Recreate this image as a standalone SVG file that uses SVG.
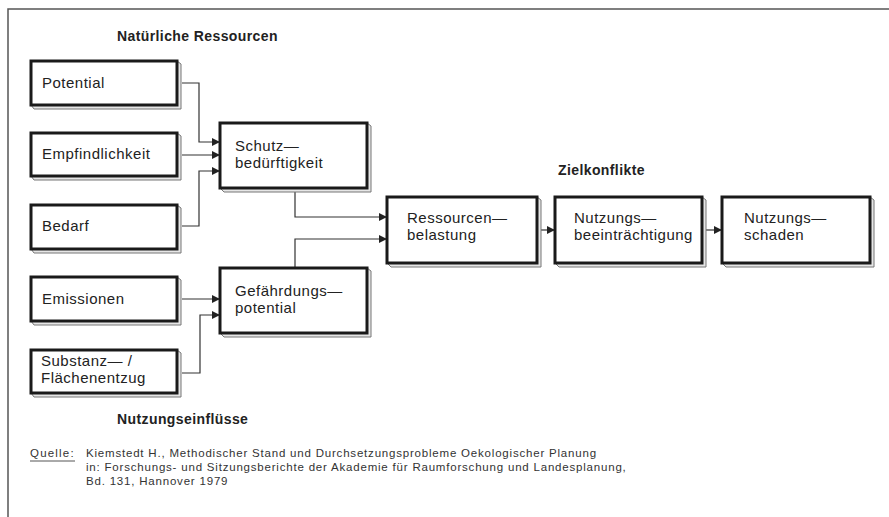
<svg xmlns="http://www.w3.org/2000/svg" width="889" height="517" viewBox="0 0 889 517">
<defs>
<style>
.box{fill:#fff;stroke:#1a1a1a;stroke-width:3}
.sh{fill:#e6e6e6;stroke:#777;stroke-width:1}
.t{font-family:"Liberation Sans",Arial,sans-serif;font-size:15px;letter-spacing:0.5px;fill:#222}
.h{font-family:"Liberation Sans",Arial,sans-serif;font-size:14px;letter-spacing:0.4px;font-weight:bold;fill:#222}
.q{font-family:"Liberation Sans",Arial,sans-serif;font-size:11.5px;letter-spacing:0.8px;fill:#333}
.c{fill:none;stroke:#333;stroke-width:1.2}
</style>
<marker id="a" markerWidth="8" markerHeight="8" refX="7" refY="4" orient="auto" markerUnits="userSpaceOnUse">
<path d="M0,0 L8,4 L0,8 Z" fill="#222"/>
</marker>
</defs>
<rect width="889" height="517" fill="#fff"/>
<path d="M889,9 L8,9 L8,517" fill="none" stroke="#555" stroke-width="1.5"/>

<text class="h" x="117" y="41">Natürliche Ressourcen</text>
<text class="h" x="558" y="175">Zielkonflikte</text>
<text class="h" x="117" y="424">Nutzungseinflüsse</text>

<g id="connectors">
<path class="c" d="M182,83 H199 V142 H219" marker-end="url(#a)"/>
<path class="c" d="M182,155 H219" marker-end="url(#a)"/>
<path class="c" d="M182,226 H199 V171 H219" marker-end="url(#a)"/>
<path class="c" d="M182,299 H219" marker-end="url(#a)"/>
<path class="c" d="M182,373 H200 V315 H219" marker-end="url(#a)"/>
<path class="c" d="M295,192 V217 H386" marker-end="url(#a)"/>
<path class="c" d="M295,268 V239 H386" marker-end="url(#a)"/>
<path class="c" d="M541,230 H554" marker-end="url(#a)"/>
<path class="c" d="M706,230 H721" marker-end="url(#a)"/>
</g>

<g id="potential">
<path class="sh" d="M177,61 L181,64 L181,109 L34,109 L31,105 L177,105 Z"/>
<rect class="box" x="31" y="61" width="146" height="44"/>
<text class="t" x="42" y="88">Potential</text>
</g>
<g id="empfindlichkeit">
<path class="sh" d="M177,133 L181,136 L181,180 L34,180 L31,176 L177,176 Z"/>
<rect class="box" x="31" y="133" width="146" height="43"/>
<text class="t" x="42" y="159">Empfindlichkeit</text>
</g>
<g id="bedarf">
<path class="sh" d="M177,205 L181,208 L181,253 L34,253 L31,249 L177,249 Z"/>
<rect class="box" x="31" y="205" width="146" height="44"/>
<text class="t" x="42" y="231">Bedarf</text>
</g>
<g id="emissionen">
<path class="sh" d="M177,277 L181,280 L181,325 L34,325 L31,321 L177,321 Z"/>
<rect class="box" x="31" y="277" width="146" height="44"/>
<text class="t" x="42" y="304">Emissionen</text>
</g>
<g id="substanz">
<path class="sh" d="M177,350 L181,353 L181,397 L34,397 L31,393 L177,393 Z"/>
<rect class="box" x="31" y="350" width="146" height="43"/>
<text class="t" x="41" y="366">Substanz— /</text>
<text class="t" x="41" y="383">Flächenentzug</text>
</g>
<g id="schutz">
<path class="sh" d="M367,123 L371,126 L371,192 L224,192 L220,188 L367,188 Z"/>
<rect class="box" x="220" y="123" width="147" height="65"/>
<text class="t" x="235" y="151">Schutz—</text>
<text class="t" x="235" y="168">bedürftigkeit</text>
</g>
<g id="gefaehrdung">
<path class="sh" d="M367,268 L371,271 L371,337 L224,337 L220,333 L367,333 Z"/>
<rect class="box" x="220" y="268" width="147" height="65"/>
<text class="t" x="235" y="296">Gefährdungs—</text>
<text class="t" x="235" y="313">potential</text>
</g>
<g id="ressourcen">
<path class="sh" d="M537,197 L541,200 L541,267 L391,267 L387,263 L537,263 Z"/>
<rect class="box" x="387" y="197" width="150" height="66"/>
<text class="t" x="407" y="223">Ressourcen—</text>
<text class="t" x="407" y="240">belastung</text>
</g>
<g id="beeintraechtigung">
<path class="sh" d="M702,197 L706,200 L706,267 L559,267 L555,263 L702,263 Z"/>
<rect class="box" x="555" y="197" width="147" height="66"/>
<text class="t" x="574" y="223">Nutzungs—</text>
<text class="t" x="574" y="240">beeinträchtigung</text>
</g>
<g id="schaden">
<path class="sh" d="M870,197 L874,200 L874,267 L726,267 L722,263 L870,263 Z"/>
<rect class="box" x="722" y="197" width="148" height="66"/>
<text class="t" x="744" y="223">Nutzungs—</text>
<text class="t" x="744" y="240">schaden</text>
</g>

<g id="quelle">
<text class="q" x="30" y="457" style="letter-spacing:1.2px">Quelle:</text>
<line x1="30" y1="461" x2="75" y2="461" stroke="#555" stroke-width="1"/>
<text class="q" x="86" y="457">Kiemstedt H., Methodischer Stand und Durchsetzungsprobleme Oekologischer Planung</text>
<text class="q" x="86" y="471">in: Forschungs- und Sitzungsberichte der Akademie für Raumforschung und Landesplanung,</text>
<text class="q" x="86" y="485">Bd. 131, Hannover 1979</text>
</g>
</svg>
